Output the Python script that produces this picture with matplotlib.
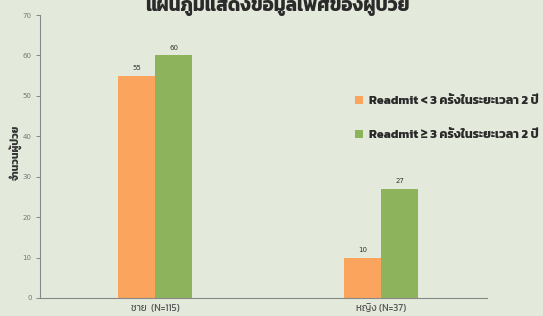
import matplotlib
matplotlib.use("Agg")
import matplotlib.pyplot as plt
import numpy as np

plt.rcParams['font.family'] = ['Kanit', 'IBM Plex Sans Thai', 'DejaVu Sans']

# data
groups = ['ชาย  (N=115)', 'หญิง (N=37)']
readmit_lt3 = [55, 10]
readmit_ge3 = [60, 27]
series_labels = ['Readmit < 3 ครั้งในระยะเวลา 2 ปี', 'Readmit ≥ 3 ครั้งในระยะเวลา 2 ปี']
yticks = [0, 10, 20, 30, 40, 50, 60, 70]

bg = '#e4eadb'
orange = '#fba45e'
green = '#8db45c'

fig = plt.figure(figsize=(5.43, 3.16), dpi=100, facecolor=bg)
ax = fig.add_axes([40 / 543, 1 - 298 / 316, 447 / 543, 283 / 316])
ax.set_facecolor(bg)

x = np.arange(len(groups))
w = 0.165
b1 = ax.bar(x - w / 2, readmit_lt3, w, color=orange, label=series_labels[0])
b2 = ax.bar(x + w / 2, readmit_ge3, w, color=green, label=series_labels[1])
for bars in (b1, b2):
    for r in bars:
        ax.text(r.get_x() + r.get_width() / 2, r.get_height() + 1.2, str(int(r.get_height())),
                ha='center', va='bottom', fontsize=5, color='#333333', family='DejaVu Sans')

ax.set_xlim(-0.509, 1.469)
ax.set_ylim(0, 70)
ax.set_yticks(yticks)
ax.set_xticks(x)
ax.set_xticklabels(groups)
ax.tick_params(axis='y', labelsize=5, colors='#777777', length=3, width=0.6, pad=3)
ax.tick_params(axis='x', labelsize=7, colors='#555555', length=0, pad=4)
for lab in ax.get_yticklabels():
    lab.set_family('DejaVu Sans')
for s in ('top', 'right'):
    ax.spines[s].set_visible(False)
for s in ('left', 'bottom'):
    ax.spines[s].set_color('#888888')
    ax.spines[s].set_linewidth(0.8)

fig.text(15 / 543, 1 - 152 / 316, 'จำนวนผู้ป่วย', rotation=90, ha='center', va='center',
         fontsize=7.5, fontweight='bold', color='#333333')

fig.text(277 / 543, 1 - 5 / 316, 'แผนภูมิแสดงข้อมูลเพศของผู้ป่วย', ha='center', va='center',
         fontsize=13.5, fontweight='bold', color='#2a2a2a')

leg = ax.legend(loc='upper left', bbox_to_anchor=(344 / 543, 1 - 84 / 316),
                bbox_transform=fig.transFigure, frameon=False,
                handlelength=0.6, handleheight=0.6, handletextpad=0.5, labelspacing=1.9,
                prop={'weight': 'bold', 'size': 9})
for t in leg.get_texts():
    t.set_color('#2a2a2a')

fig.savefig('out.png', dpi=100, facecolor=bg)
